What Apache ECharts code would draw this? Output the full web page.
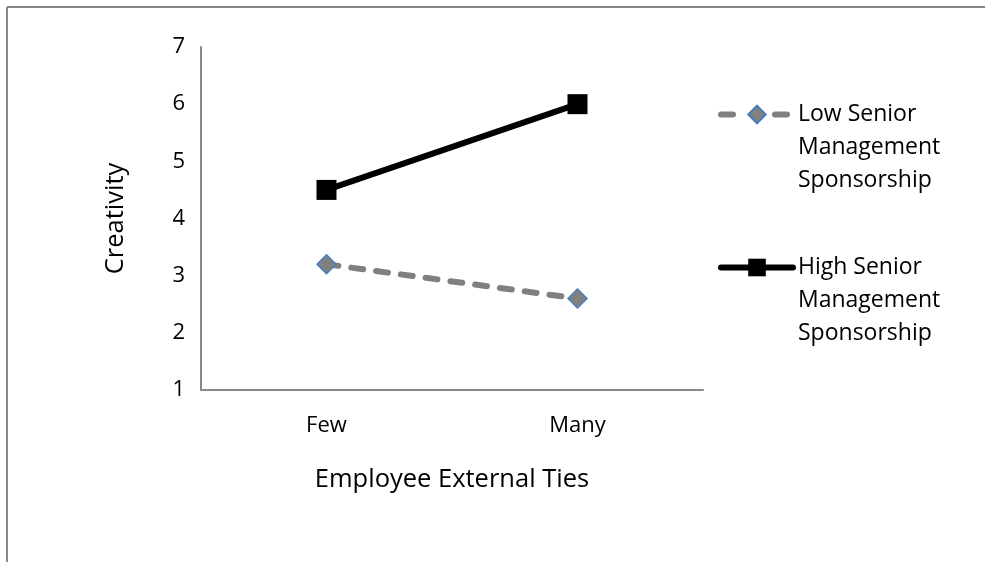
<!DOCTYPE html>
<html>
<head>
<meta charset="utf-8">
<script src="https://cdn.jsdelivr.net/npm/echarts@6/dist/echarts.min.js"></script>
<style>
  html, body { margin: 0; padding: 0; background: #fff; }
  #chart { width: 985px; height: 562px; }
</style>
</head>
<body>
<div id="chart"></div>
<script>
// data
var categories = ['Few', 'Many'];
var lowSponsorship = [3.2, 2.6];
var highSponsorship = [4.5, 6.0];
var seriesNames = ['Low Senior\nManagement\nSponsorship', 'High Senior\nManagement\nSponsorship'];

var FONT = 'Open Sans';
var chart = echarts.init(document.getElementById('chart'));

// legend text: two blank lines on top so the icon sits on the first line
function legendText(name) {
  return '\n\n' + name;
}

function makeLegend(name, top, lineStyle) {
  return {
    orient: 'vertical',
    left: 718,
    top: top,
    padding: 0,
    itemWidth: 72,
    itemHeight: 22,
    selectedMode: false,
    formatter: legendText,
    textStyle: { fontFamily: FONT, fontSize: 23, color: '#000', lineHeight: 33 },
    lineStyle: lineStyle,
    data: [name]
  };
}

var option = {
  backgroundColor: '#fff',
  animation: false,
  // outer frame (only top and left edges show in the picture)
  graphic: [
    { type: 'line', shape: { x1: 7, y1: 7, x2: 985, y2: 7 }, style: { stroke: '#898989', lineWidth: 2 } },
    { type: 'line', shape: { x1: 7, y1: 7, x2: 7, y2: 562 }, style: { stroke: '#898989', lineWidth: 2 } }
  ],
  grid: { left: 201, top: 47, right: 282, height: 343 },
  legend: [
    makeLegend(seriesNames[0], 32, { width: 6, type: [12, 42], cap: 'round' }),
    makeLegend(seriesNames[1], 185, { width: 6, type: 'solid', cap: 'round' })
  ],
  xAxis: {
    type: 'category',
    data: categories,
    name: 'Employee External Ties',
    nameLocation: 'middle',
    nameGap: 77,
    nameTextStyle: { fontFamily: FONT, fontSize: 25.5, color: '#000' },
    axisLine: { lineStyle: { color: '#898989', width: 2 } },
    axisTick: { show: false },
    axisLabel: { fontFamily: FONT, fontSize: 22, color: '#000', margin: 25 }
  },
  yAxis: {
    type: 'value',
    min: 1,
    max: 7,
    interval: 1,
    name: 'Creativity',
    nameLocation: 'middle',
    nameGap: 72,
    nameTextStyle: { fontFamily: FONT, fontSize: 25.5, color: '#000' },
    axisLine: { show: true, lineStyle: { color: '#898989', width: 2 } },
    axisTick: { show: false },
    splitLine: { show: false },
    axisLabel: { fontFamily: FONT, fontSize: 22, color: '#000', margin: 16 }
  },
  series: [
    {
      name: seriesNames[0],
      type: 'line',
      data: lowSponsorship,
      symbol: 'diamond',
      symbolSize: 19,
      itemStyle: { color: '#808080', borderColor: '#4a7ebb', borderWidth: 1.5 },
      lineStyle: { color: '#808080', width: 6, type: [12, 13], cap: 'round' }
    },
    {
      name: seriesNames[1],
      type: 'line',
      data: highSponsorship,
      symbol: 'rect',
      symbolSize: 20,
      itemStyle: { color: '#000' },
      lineStyle: { color: '#000', width: 6, cap: 'round' }
    }
  ]
};

chart.setOption(option);
</script>
</body>
</html>
